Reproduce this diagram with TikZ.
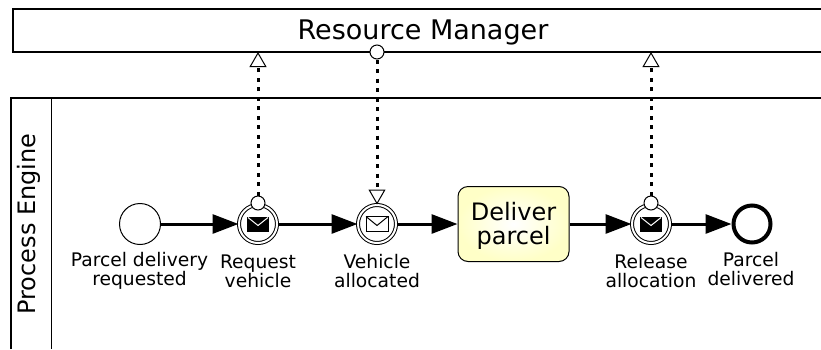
\documentclass[tikz,border=0pt]{standalone}
\usepackage{fontspec}
\setmainfont{DejaVu Sans}
\usetikzlibrary{arrows.meta}
\tikzset{event/.style={circle,draw,fill=white,line width=1pt,minimum size=41pt,inner sep=0pt},
	msgevent/.style={event,double,double distance=2pt,minimum size=38pt},
	stopevent/.style={event,line width=4pt,minimum size=37pt},
	caption/.style={font=\fontsize{18.7}{19}\selectfont,align=center,inner sep=0pt},
	bigtext/.style={font=\fontsize{24}{24}\selectfont,align=center},
	flow/.style={draw,line width=3pt,-{Triangle[length=26pt,width=19pt]}},
	msgflow/.style={draw,line width=3pt,dash pattern=on 4pt off 5.5pt},
	msgtip/.style={-{Triangle[open,fill=white,length=15pt,width=17pt,line width=1pt]}},
	port/.style={circle,draw,fill=white,line width=1pt,minimum size=14pt,inner sep=0pt}}
\begin{document}
\begin{tikzpicture}[x=1pt,y=-1pt]
  \useasboundingbox (0,0) rectangle (821,349);
  % pools
  \node[font=\fontsize{27}{27}\selectfont,minimum width=796pt,minimum height=43pt,inner sep=0pt] (manager) at (423,32.5) {Resource Manager};
  \draw[line width=1.3pt] (821,9) -- (13,9) -- (13,52) -- (821,52);
  \draw[line width=1.3pt] (11,349) -- (11,98) -- (821,98);
  \draw[line width=1.3pt] (51.5,98) -- (51.5,349);
  \node[rotate=90,bigtext] (engine) at (29,224) {Process Engine};
  % nodes
  \node[event] (start) at (140,224) {};
  \node[msgevent] (request) at (258,224) {};
  \node[msgevent] (allocated) at (377,224) {};
  \node[draw,rounded corners=10pt,line width=1pt,inner color=white,outer color=yellow!22,minimum width=111pt,minimum height=75pt,bigtext] (deliver) at (513.5,224) {\rule{0pt}{22.2pt}Deliver\\parcel};
  \node[msgevent] (release) at (651,224) {};
  \node[stopevent] (stop) at (752,224) {};
  % labels
  \node[caption] (l1) at (139.5,271) {Parcel delivery\\requested};
  \node[caption] (l2) at (258,271) {Request\\vehicle};
  \node[caption] (l3) at (377,271) {Vehicle\\allocated};
  \node[caption] (l4) at (651,271) {Release\\allocation};
  \node[caption] (l5) at (751,269) {Parcel\\delivered};
  % sequence flows
  \foreach \from/\to in {start/request,request/allocated,allocated/deliver,deliver/release,release/stop}
    \draw[flow] (\from) -- (\to);
  % envelopes
  \foreach \ev in {request,release}
    \fill (\ev)+(-11,-7.5) rectangle +(11,7.5);
  \foreach \ev in {request,release}
    \draw[white,line width=1pt] (\ev)+(-10,-6.5) -- +(0,1.5) -- +(10,-6.5);
  \draw[line width=1pt] (allocated)+(-11,-7.5) rectangle +(11,7.5);
  \draw[line width=1pt] (allocated)+(-11,-7.5) -- +(0,1.5) -- +(11,-7.5);
  % message flows
  \coordinate (mreq) at (request |- 0,52);
  \coordinate (mrel) at (release |- 0,52);
  \node[port] (preq) at (258,203) {};
  \node[port] (prel) at (651,203) {};
  \node[port] (pman) at (377,52) {};
  \draw[msgflow,msgtip] (preq) -- (mreq);
  \draw[msgflow,msgtip] (prel) -- (mrel);
  \draw[msgflow,msgtip] (pman) -- (allocated);
\end{tikzpicture}
\end{document}
